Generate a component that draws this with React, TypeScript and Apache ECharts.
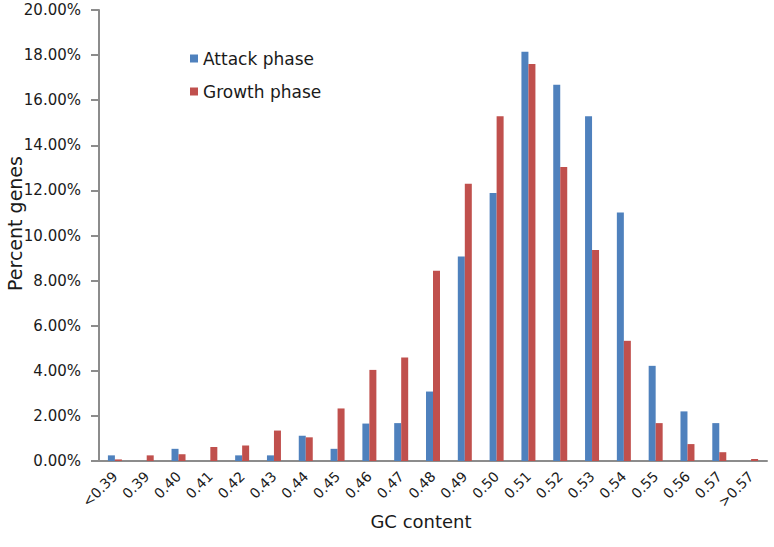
import React, { useEffect, useRef } from "react";
import * as echarts from "echarts";

const categories = ["<0.39", "0.39", "0.40", "0.41", "0.42", "0.43", "0.44", "0.45", "0.46", "0.47", "0.48", "0.49", "0.50", "0.51", "0.52", "0.53", "0.54", "0.55", "0.56", "0.57", ">0.57"];
const attackPhase = [0.25, 0, 0.54, 0, 0.25, 0.25, 1.12, 0.54, 1.66, 1.68, 3.08, 9.07, 11.88, 18.15, 16.68, 15.29, 11.02, 4.22, 2.2, 1.68, 0];
const growthPhase = [0.07, 0.25, 0.3, 0.62, 0.69, 1.35, 1.05, 2.33, 4.04, 4.59, 8.44, 12.3, 15.29, 17.61, 13.04, 9.36, 5.33, 1.68, 0.75, 0.39, 0.09];
const seriesNames = ["Attack phase", "Growth phase"];

const FONT = "DejaVu Sans";

export default function App() {
  const ref = useRef<HTMLDivElement>(null);
  useEffect(() => {
    if (!ref.current) return;
    const chart = echarts.init(ref.current, null, { renderer: "svg" });
    chart.setOption({
      animation: false,
      backgroundColor: "#ffffff",
      textStyle: { fontFamily: FONT },
      grid: { left: 99, right: 7, top: 10, bottom: 86, containLabel: false, outerBoundsMode: "none" },
      legend: {
        orient: "vertical",
        left: 185,
        top: 45,
        itemWidth: 8,
        itemHeight: 8,
        itemGap: 16,
        icon: "rect",
        textStyle: { fontFamily: FONT, fontSize: 17, color: "#1a1a1a", padding: [0, 0, 0, 0] },
        data: seriesNames,
      },
      xAxis: {
        type: "category",
        data: categories,
        axisLine: { lineStyle: { color: "#8c8c8c", width: 2 } },
        axisTick: { show: false },
        axisLabel: { rotate: 45, fontFamily: FONT, fontSize: 14, color: "#1a1a1a", margin: 13, interval: 0 },
        name: "GC content",
        nameLocation: "middle",
        nameGap: 51,
        nameMoveOverlap: false,
        nameTextStyle: { fontFamily: FONT, fontSize: 18, color: "#1a1a1a", padding: [0, 24, 0, 0] },
      },
      yAxis: {
        type: "value",
        min: 0,
        max: 20,
        interval: 2,
        splitLine: { show: false },
        axisLine: { show: true, lineStyle: { color: "#8c8c8c", width: 2 } },
        axisTick: { show: true, length: 8, lineStyle: { color: "#8c8c8c", width: 2 } },
        axisLabel: { fontFamily: FONT, fontSize: 15, color: "#1a1a1a", margin: 18, formatter: (v: number) => v.toFixed(2) + "%" },
        name: "Percent genes",
        nameLocation: "middle",
        nameGap: 75,
        nameMoveOverlap: false,
        nameTextStyle: { fontFamily: FONT, fontSize: 19, color: "#1a1a1a", padding: [0, 0, 0, 24] },
      },
      series: [
        { name: seriesNames[0], type: "bar", data: attackPhase, barGap: "0%", barCategoryGap: "56%", itemStyle: { color: "#4F81BD" } },
        { name: seriesNames[1], type: "bar", data: growthPhase, barGap: "0%", barCategoryGap: "56%", itemStyle: { color: "#C0504D" } },
      ],
    });
    return () => chart.dispose();
  }, []);
  return <div ref={ref} style={{ width: 774, height: 547, position: "absolute", left: 0, top: 0 }} />;
}
